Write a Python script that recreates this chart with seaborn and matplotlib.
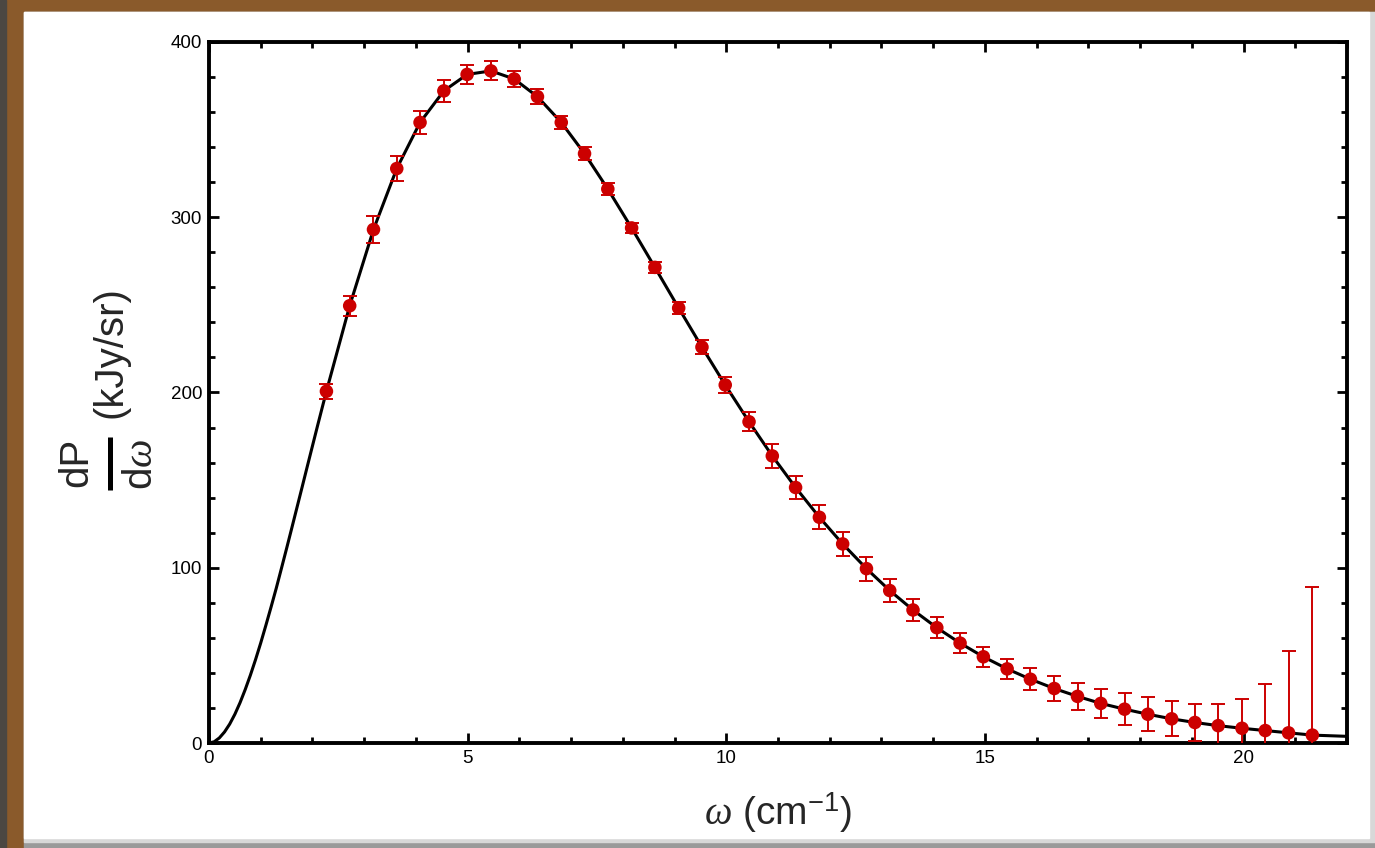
import numpy as np
import matplotlib
matplotlib.use("Agg")
import matplotlib.pyplot as plt
import seaborn as sns
from matplotlib.patches import Rectangle
from matplotlib.lines import Line2D

# FIRAS-style spectrum points
omega = [2.27, 2.72, 3.18, 3.63, 4.08, 4.54, 4.99, 5.45, 5.90, 6.35, 6.81,
         7.26, 7.71, 8.17, 8.62, 9.08, 9.53, 9.98, 10.44, 10.89, 11.34,
         11.80, 12.25, 12.71, 13.16, 13.61, 14.07, 14.52, 14.97, 15.43,
         15.88, 16.34, 16.79, 17.24, 17.70, 18.15, 18.61, 19.06, 19.51,
         19.97, 20.42, 20.87, 21.33]
power = [200.7, 249.5, 293.0, 327.8, 354.1, 372.1, 381.5, 383.5, 378.9,
         368.8, 354.1, 336.3, 316.1, 293.9, 271.4, 248.2, 225.9, 204.3,
         183.3, 163.8, 145.8, 128.8, 113.6, 99.5, 87.0, 75.9, 65.8, 57.0,
         49.2, 42.3, 36.4, 31.1, 26.6, 22.6, 19.3, 16.4, 13.8, 11.7, 9.9,
         8.4, 7.1, 5.8, 4.5]
error = [4.2, 5.7, 7.5, 6.9, 6.6, 6.3, 5.4, 5.4, 4.8, 4.2, 3.9, 3.6, 3.3,
         3.0, 3.3, 3.6, 4.2, 4.8, 5.4, 6.6, 6.6, 6.9, 6.9, 6.9, 6.6, 6.3,
         6.0, 5.7, 5.7, 5.7, 6.3, 6.9, 7.8, 8.4, 9.0, 9.6, 9.9, 10.5, 12.3,
         16.5, 26.4, 46.5, 84.6]

# black fitted curve (rising part left of the data)
rise_x = [0.0, 0.1, 0.2, 0.3, 0.4, 0.5, 0.6, 0.7, 0.8, 0.9, 1.0, 1.1, 1.2,
          1.3, 1.4, 1.5, 1.6, 1.7, 1.8, 1.9, 2.0, 2.1, 2.2]
rise_y = [0.0, 0.7, 2.9, 6.3, 10.8, 16.4, 23.0, 30.5, 38.7, 47.6, 57.1, 67.2,
          77.6, 88.3, 99.6, 111.0, 122.6, 134.3, 146.0, 157.8, 169.5, 181.2,
          192.7]
curve_x = rise_x + omega + [22.0]
curve_y = rise_y + power + [3.8]

sns.set_style("white")
plt.rcParams["font.family"] = ["Liberation Sans", "DejaVu Sans"]
plt.rcParams["mathtext.fontset"] = "custom"
plt.rcParams["mathtext.rm"] = "Liberation Sans"
plt.rcParams["mathtext.it"] = "Liberation Serif:italic"

W, H = 1375, 848
fig = plt.figure(figsize=(W / 100, H / 100), dpi=100)
fig.patch.set_facecolor("#8a5a2b")

# picture frame: dark edge on the left, white panel, grey shadow right/bottom
def px_rect(x0, y0, x1, y1, color):
    fig.patches.append(Rectangle((x0 / W, 1 - y1 / H), (x1 - x0) / W, (y1 - y0) / H,
                                 transform=fig.transFigure, color=color, zorder=-10))

px_rect(0, 0, 6, H, "#4b4742")
px_rect(24, 12, W, H, "#9a9a9a")
px_rect(24, 12, W, 842, "#d8d8d8")
px_rect(24, 12, 1369, 838, "white")

ax = fig.add_axes([209 / W, 1 - 743 / H, (1347 - 209) / W, (743 - 42) / H])
ax.set_facecolor("white")

sns.lineplot(x=curve_x, y=curve_y, color="black", lw=2.2, ax=ax, zorder=2)
ax.errorbar(omega, power, yerr=error, fmt="none", ecolor="#cc0000",
            elinewidth=1.4, capsize=4.8, capthick=1.4, zorder=3)
sns.scatterplot(x=omega, y=power, color="#cc0000", s=95, edgecolor="none",
                ax=ax, zorder=4)

ax.set_xlim(0, 22)
ax.set_ylim(0, 400)
ax.set_xticks([0, 5, 10, 15, 20])
ax.set_yticks([0, 100, 200, 300, 400])
ax.set_xticks(np.arange(0, 23, 1), minor=True)
ax.set_yticks(np.arange(0, 401, 20), minor=True)
ax.tick_params(which="both", direction="in", top=True, right=True,
               bottom=True, left=True, width=2, colors="black")
ax.tick_params(which="major", length=7, labelsize=13.5, pad=5)
ax.tick_params(which="minor", length=4)
for s in ax.spines.values():
    s.set_linewidth(2.8)
    s.set_color("black")

ax.set_xlabel(r"$\omega$ (cm$^{-1}$)", fontsize=28, labelpad=17)

# y label: dP/dω written as a rotated fraction, then the unit
def fx(px):
    return px / W

def fy(py):
    return 1 - py / H

fig.text(fx(110), fy(352), "(kJy/sr)", rotation=90, fontsize=29,
         ha="center", va="center")
fig.text(fx(76), fy(462), "dP", rotation=90, fontsize=29,
         ha="center", va="center")
fig.text(fx(141), fy(464), r"d$\omega$", rotation=90, fontsize=29,
         ha="center", va="center")
fig.add_artist(Line2D([fx(110), fx(110)], [fy(437), fy(490)],
                      transform=fig.transFigure, color="black", lw=3.6,
                      solid_capstyle="butt"))

fig.savefig("out.png", dpi=100, facecolor=fig.get_facecolor())
